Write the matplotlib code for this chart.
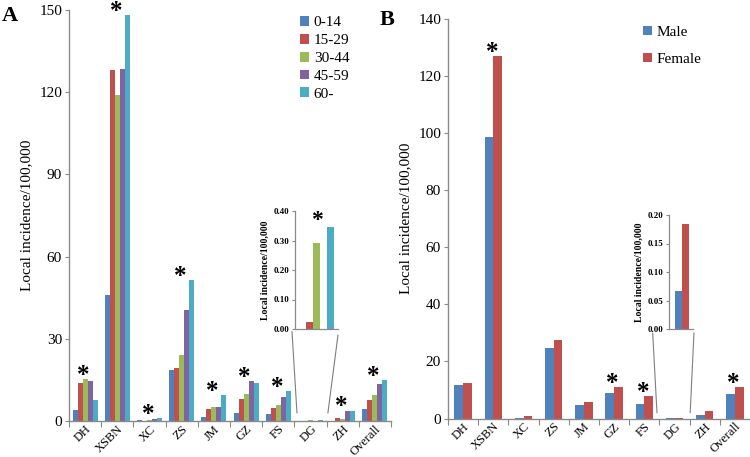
import matplotlib
matplotlib.use('Agg')
import matplotlib.pyplot as plt
import numpy as np
from matplotlib.patches import ConnectionPatch

plt.rcParams['font.family'] = ['Liberation Serif', 'DejaVu Serif']

# ---------------- data ----------------
regions = ['DH', 'XSBN', 'XC', 'ZS', 'JM', 'GZ', 'FS', 'DG', 'ZH', 'Overall']
age_groups = ['0-14', '15-29', '30-44', '45-59', '60-']
age_0_14 = [4.1, 45.9, 0.2, 18.6, 1.5, 3.1, 2.7, 0.0, 0.0, 4.4]
age_15_29 = [14.0, 128.0, 0.05, 19.3, 4.4, 7.9, 4.9, 0.025, 1.0, 7.7]
age_30_44 = [15.2, 118.8, 0.2, 24.2, 5.1, 9.9, 5.7, 0.29, 0.9, 9.4]
age_45_59 = [14.6, 128.5, 0.8, 40.5, 5.2, 14.6, 8.6, 0.0, 3.5, 13.6]
age_60 = [7.5, 148.2, 1.0, 51.5, 9.4, 13.8, 10.9, 0.345, 3.8, 14.9]
sig_age = ['DH', 'XSBN', 'XC', 'ZS', 'JM', 'GZ', 'FS', 'ZH', 'Overall']
sig_age_inset = True

sexes = ['Male', 'Female']
male = [11.8, 98.4, 0.35, 24.7, 4.8, 9.1, 5.2, 0.067, 1.2, 8.6]
female = [12.4, 126.8, 0.8, 27.6, 5.9, 10.9, 7.8, 0.185, 2.5, 10.9]
sig_sex = ['XSBN', 'GZ', 'FS', 'Overall']
sig_sex_inset = False

inset_region = 'DG'

age_colors = ['#4F81BD', '#C0504D', '#9BBB59', '#8064A2', '#4BACC6']
sex_colors = ['#4F81BD', '#C0504D']
spine_col = '#8a8a8a'

W, H = 750, 457
fig = plt.figure(figsize=(7.5, 4.57), dpi=100)


def style_main(ax, ymax, ystep):
    ax.set_xlim(-0.5, len(regions) - 0.5)
    ax.set_ylim(0, ymax)
    ax.set_yticks(np.arange(0, ymax + 0.1, ystep))
    for s in ['top', 'right']:
        ax.spines[s].set_visible(False)
    for s in ['left', 'bottom']:
        ax.spines[s].set_color(spine_col)
        ax.spines[s].set_linewidth(1.0)
    # boundaries as major ticks, labels at centers as minor ticks
    ax.set_xticks(np.arange(-0.5, len(regions) + 0.5, 1.0))
    ax.set_xticklabels([])
    ax.set_xticks(np.arange(len(regions)), minor=True)
    ax.set_xticklabels(regions, minor=True, rotation=45, ha='right',
                       va='top', rotation_mode='anchor', fontsize=9)
    ax.tick_params(axis='x', which='major', length=4, color=spine_col,
                   direction='out')
    ax.tick_params(axis='x', which='minor', length=0, pad=1.5)
    ax.tick_params(axis='y', length=3, color=spine_col, labelsize=11,
                   direction='out', pad=2)
    ax.set_ylabel('Local incidence/100,000', fontsize=11, labelpad=4)


def style_inset(ax, ymax, ystep):
    ax.set_ylim(0, ymax)
    ax.set_yticks(np.arange(0, ymax + 1e-9, ystep))
    ax.set_yticklabels(['%.2f' % v for v in np.arange(0, ymax + 1e-9, ystep)],
                       fontsize=6.5, fontweight='bold')
    ax.set_xticks([])
    for s in ['top', 'right']:
        ax.spines[s].set_visible(False)
    for s in ['left', 'bottom']:
        ax.spines[s].set_color(spine_col)
        ax.spines[s].set_linewidth(0.9)
    ax.tick_params(axis='y', length=2, color=spine_col, pad=2)
    ax.set_ylabel('Local incidence/100,000', fontsize=7, fontweight='bold',
                  labelpad=3)


def star(ax, x, y, dy=-5.5, dx=-1, size=18):
    ax.annotate('*', xy=(x, y), xytext=(dx, dy), textcoords='offset points',
                ha='center', va='bottom', fontsize=size, fontweight='bold',
                annotation_clip=False)


x = np.arange(len(regions))
idx_in = regions.index(inset_region)

# ---------------- Panel A ----------------
axA = fig.add_axes([69 / W, 1 - 421 / H, (391 - 69) / W, 411 / H])
age_series = [age_0_14, age_15_29, age_30_44, age_45_59, age_60]
wA = 0.155
for i, (vals, c) in enumerate(zip(age_series, age_colors)):
    axA.bar(x + (i - 2) * wA, vals, wA, color=c, label=age_groups[i],
            linewidth=0)
style_main(axA, 150, 30)
for r in sig_age:
    j = regions.index(r)
    star(axA, j, max(s[j] for s in age_series))
axA.legend(loc='upper left', bbox_to_anchor=((300 - 69) / 322, 0.985),
           frameon=False, fontsize=11, handlelength=0.6, handleheight=0.6,
           handletextpad=0.3, labelspacing=0.3, borderpad=0,
           borderaxespad=0)

insA = fig.add_axes([295 / W, 1 - 329 / H, 43 / W, 118 / H])
vals_in = [s[idx_in] for s in age_series]
insA.bar(np.arange(5), vals_in, 1.0, color=age_colors, linewidth=0)
insA.set_xlim(-1.07, 5.07)
style_inset(insA, 0.40, 0.10)
if sig_age_inset:
    star(insA, 2, max(vals_in), dy=-3, dx=0, size=17)

for (fx, fy), (dx_, dy_) in [((-0.07, -0.02), (idx_in - 0.42, 2.9)),
                             ((1.0, -0.05), (idx_in + 0.54, 2.9))]:
    cp = ConnectionPatch(xyA=(fx, fy), coordsA=insA.transAxes,
                         xyB=(dx_, dy_), coordsB=axA.transData,
                         color='#7f7f7f', lw=0.8)
    fig.add_artist(cp)

# ---------------- Panel B ----------------
axB = fig.add_axes([448 / W, 1 - 418.5 / H, (750 - 448) / W, 400 / H])
wB = 0.287
for i, (vals, c) in enumerate(zip([male, female], sex_colors)):
    axB.bar(x + (i - 0.5) * wB, vals, wB, color=c, label=sexes[i],
            linewidth=0)
style_main(axB, 140, 20)
for r in sig_sex:
    j = regions.index(r)
    star(axB, j, max(male[j], female[j]))
axB.legend(loc='upper left', bbox_to_anchor=((643 - 448) / 302, 0.982),
           frameon=False, fontsize=11, handlelength=0.6, handleheight=0.6,
           handletextpad=0.3, labelspacing=0.9, borderpad=0,
           borderaxespad=0)

insB = fig.add_axes([669 / W, 1 - 329 / H, 24 / W, 114 / H])
insB.bar(np.arange(2), [male[idx_in], female[idx_in]], 1.0,
         color=sex_colors, linewidth=0)
insB.set_xlim(-1.36, 2.07)
style_inset(insB, 0.20, 0.05)

for (fx, fy), (dx_, dy_) in [((-0.68, -0.035), (idx_in - 0.58, 2.0)),
                             ((1.04, -0.035), (idx_in + 0.52, 2.0))]:
    cp = ConnectionPatch(xyA=(fx, fy), coordsA=insB.transAxes,
                         xyB=(dx_, dy_), coordsB=axB.transData,
                         color='#7f7f7f', lw=0.8)
    fig.add_artist(cp)

fig.text(2 / W, 1 - 6 / H, 'A', fontsize=16, fontweight='bold',
         ha='left', va='top')
fig.text(380 / W, 1 - 10 / H, 'B', fontsize=16, fontweight='bold',
         ha='left', va='top')

fig.savefig('out.png', dpi=100)
